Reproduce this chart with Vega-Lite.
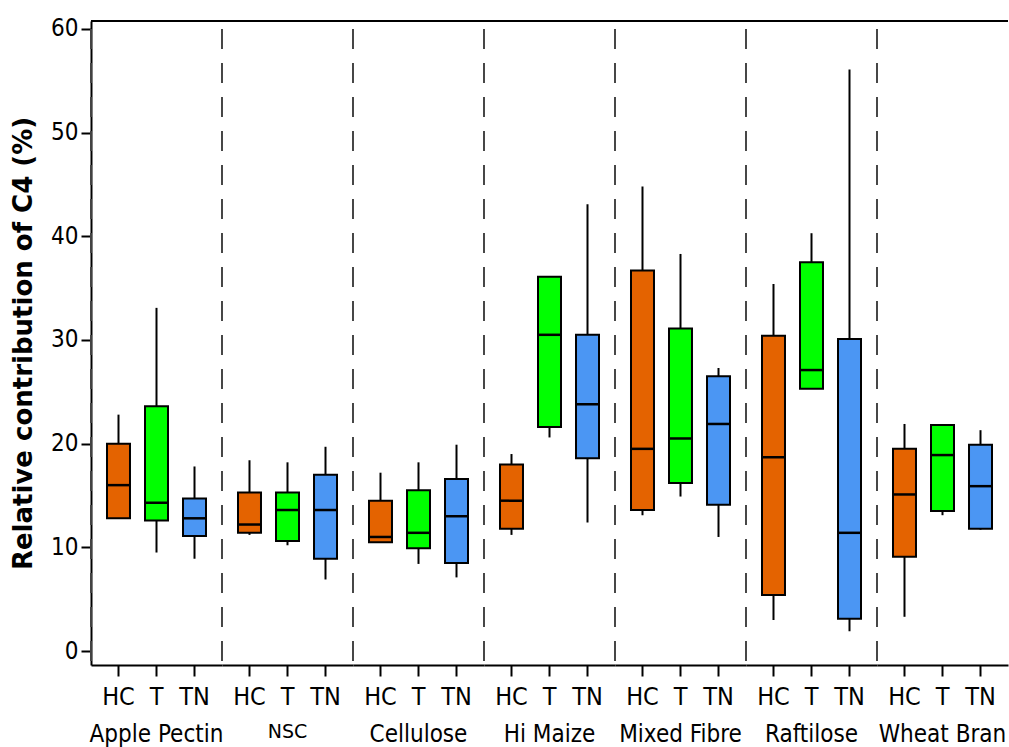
{
  "$schema": "https://vega.github.io/schema/vega-lite/v6.json",
  "padding": {"left": 10, "top": 16, "right": 0, "bottom": 0},
  "bounds": "flush",
  "data": {"values": [
    {"fibre": "Apple Pectin", "treatment": "HC", "min": 12.8, "q1": 12.8, "median": 16.0, "q3": 20.0, "max": 22.8},
    {"fibre": "Apple Pectin", "treatment": "T", "min": 9.5, "q1": 12.6, "median": 14.3, "q3": 23.6, "max": 33.1},
    {"fibre": "Apple Pectin", "treatment": "TN", "min": 8.9, "q1": 11.1, "median": 12.8, "q3": 14.7, "max": 17.8},
    {"fibre": "NSC", "treatment": "HC", "min": 11.2, "q1": 11.4, "median": 12.2, "q3": 15.3, "max": 18.4},
    {"fibre": "NSC", "treatment": "T", "min": 10.2, "q1": 10.6, "median": 13.6, "q3": 15.3, "max": 18.2},
    {"fibre": "NSC", "treatment": "TN", "min": 6.9, "q1": 8.9, "median": 13.6, "q3": 17.0, "max": 19.7},
    {"fibre": "Cellulose", "treatment": "HC", "min": 10.5, "q1": 10.5, "median": 11.0, "q3": 14.5, "max": 17.2},
    {"fibre": "Cellulose", "treatment": "T", "min": 8.4, "q1": 9.9, "median": 11.4, "q3": 15.5, "max": 18.2},
    {"fibre": "Cellulose", "treatment": "TN", "min": 7.1, "q1": 8.5, "median": 13.0, "q3": 16.6, "max": 19.9},
    {"fibre": "Hi Maize", "treatment": "HC", "min": 11.2, "q1": 11.8, "median": 14.5, "q3": 18.0, "max": 19.0},
    {"fibre": "Hi Maize", "treatment": "T", "min": 20.6, "q1": 21.6, "median": 30.5, "q3": 36.1, "max": 36.1},
    {"fibre": "Hi Maize", "treatment": "TN", "min": 12.4, "q1": 18.6, "median": 23.8, "q3": 30.5, "max": 43.1},
    {"fibre": "Mixed Fibre", "treatment": "HC", "min": 13.1, "q1": 13.6, "median": 19.5, "q3": 36.7, "max": 44.8},
    {"fibre": "Mixed Fibre", "treatment": "T", "min": 14.9, "q1": 16.2, "median": 20.5, "q3": 31.1, "max": 38.3},
    {"fibre": "Mixed Fibre", "treatment": "TN", "min": 11.0, "q1": 14.1, "median": 21.9, "q3": 26.5, "max": 27.3},
    {"fibre": "Raftilose", "treatment": "HC", "min": 3.0, "q1": 5.4, "median": 18.7, "q3": 30.4, "max": 35.4},
    {"fibre": "Raftilose", "treatment": "T", "min": 25.3, "q1": 25.3, "median": 27.1, "q3": 37.5, "max": 40.3},
    {"fibre": "Raftilose", "treatment": "TN", "min": 1.9, "q1": 3.1, "median": 11.4, "q3": 30.1, "max": 56.1},
    {"fibre": "Wheat Bran", "treatment": "HC", "min": 3.3, "q1": 9.1, "median": 15.1, "q3": 19.5, "max": 21.9},
    {"fibre": "Wheat Bran", "treatment": "T", "min": 13.1, "q1": 13.5, "median": 18.9, "q3": 21.8, "max": 21.8},
    {"fibre": "Wheat Bran", "treatment": "TN", "min": 11.7, "q1": 11.8, "median": 15.9, "q3": 19.9, "max": 21.3}
  ]},
  "facet": {
    "column": {
      "field": "fibre",
      "type": "nominal",
      "sort": ["Apple Pectin", "NSC", "Cellulose", "Hi Maize", "Mixed Fibre", "Raftilose", "Wheat Bran"],
      "title": null,
      "header": {
        "labelOrient": "bottom",
        "labelFont": {"expr": "parent['fibre'] === 'NSC' ? 'DejaVu Sans' : 'DejaVu Sans Condensed'"},
        "labelFontSize": {"expr": "parent['fibre'] === 'NSC' ? 19 : 24"},
        "labelColor": "black",
        "labelPadding": 14
      }
    }
  },
  "spacing": 0,
  "spec": {
    "width": 131,
    "height": 644,
    "layer": [
      {
        "mark": {"type": "rule", "color": "black", "strokeWidth": 2},
        "encoding": {
          "x": {
            "field": "treatment", "type": "nominal", "sort": ["HC", "T", "TN"],
            "scale": {"domain": ["HC", "T", "TN"], "paddingInner": 0.395, "paddingOuter": 0.421},
            "axis": {"title": null, "labelAngle": 0, "labelAlign": "center", "bandPosition": 0.5,
                     "tickSize": 11, "tickWidth": 2, "tickColor": "black",
                     "domainWidth": 2, "domainColor": "black", "labelFontSize": 25, "labelColor": "black",
                     "labelFont": "DejaVu Sans Condensed", "labelPadding": 8}
          },
          "y": {
            "field": "min", "type": "quantitative",
            "scale": {"domain": [-1.35, 60.77], "nice": false, "zero": false},
            "axis": {"values": [0, 10, 20, 30, 40, 50, 60], "grid": false, "tickSize": 10, "tickWidth": 2, "tickColor": "black",
                     "domainWidth": 2, "domainColor": "black", "labelFontSize": 24, "labelColor": "black",
                     "labelFont": "DejaVu Sans Condensed", "labelPadding": 3,
                     "titleFont": "DejaVu Sans", "titleFontSize": 26, "titleFontWeight": "bold", "titleColor": "black", "titlePadding": 14},
            "title": "Relative contribution of C4 (%)"
          },
          "y2": {"field": "max"}
        }
      },
      {
        "mark": {"type": "bar", "stroke": "black", "strokeWidth": 2, "opacity": 1},
        "encoding": {
          "x": {"field": "treatment", "type": "nominal", "sort": ["HC", "T", "TN"]},
          "y": {"field": "q1", "type": "quantitative"},
          "y2": {"field": "q3"},
          "color": {
            "field": "treatment", "type": "nominal",
            "scale": {"domain": ["HC", "T", "TN"], "range": ["#E46300", "#00FF00", "#4B96F3"]},
            "legend": null
          }
        }
      },
      {
        "mark": {"type": "tick", "color": "black", "thickness": 2.5, "size": 23, "opacity": 1},
        "encoding": {
          "x": {"field": "treatment", "type": "nominal", "sort": ["HC", "T", "TN"]},
          "y": {"field": "median", "type": "quantitative"}
        }
      },
      {
        "mark": {"type": "rule", "color": "#444444", "strokeWidth": 1.5, "strokeDash": [20, 14], "strokeDashOffset": 26},
        "encoding": {
          "x": {"datum": "HC", "type": "nominal", "bandPosition": -0.696}
        }
      },
      {
        "mark": {"type": "rule", "color": "black", "strokeWidth": 2},
        "encoding": {"y": {"datum": 60.77}}
      }
    ]
  },
  "config": {
    "view": {"stroke": null},
    "background": "white"
  }
}
